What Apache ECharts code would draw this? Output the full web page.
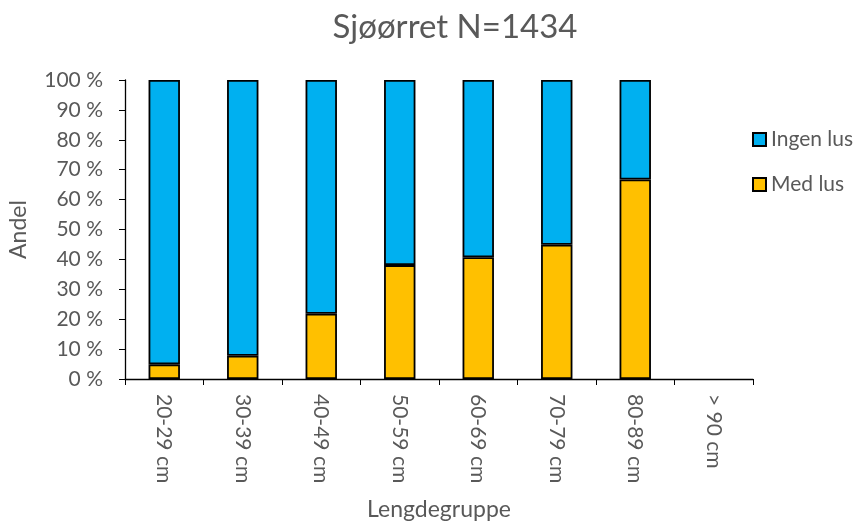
<!DOCTYPE html>
<html>
<head>
<meta charset="utf-8">
<script src="https://cdn.jsdelivr.net/npm/echarts@6/dist/echarts.min.js"></script>
<style>
  html, body { margin: 0; padding: 0; background: #fff; }
  #chart { width: 856px; height: 522px; }
</style>
</head>
<body>
<div id="chart"></div>
<script>
// data
const categories = ["20-29 cm", "30-39 cm", "40-49 cm", "50-59 cm", "60-69 cm", "70-79 cm", "80-89 cm", "> 90 cm"];
const medLus = [4.9, 7.8, 21.8, 38.1, 40.7, 44.9, 66.7, null];
const ingenLus = [95.1, 92.2, 78.2, 61.9, 59.3, 55.1, 33.3, null];
const yTicks = [0, 100, 10]; // min, max, step

const font = "Lato";
const grey = "#595959";

const chart = echarts.init(document.getElementById("chart"));
chart.setOption({
  animation: false,
  textStyle: { fontFamily: font },
  title: {
    text: "Sjøørret N=1434",
    left: 450,
    textAlign: "center",
    top: 6,
    textStyle: { fontFamily: font, fontSize: 33, fontWeight: "normal", color: grey }
  },
  legend: {
    data: ["Ingen lus", "Med lus"],
    orient: "vertical",
    left: 747,
    top: 123,
    itemWidth: 13,
    itemHeight: 13,
    itemGap: 22,
    icon: "rect",
    textStyle: { fontFamily: font, fontSize: 21, lineHeight: 23, color: grey }
  },
  grid: { left: 125, right: 103, top: 80, bottom: 143, outerBoundsMode: "none" },
  xAxis: {
    type: "category",
    data: categories,
    name: "Lengdegruppe",
    nameLocation: "middle",
    nameGap: 119,
    nameTextStyle: { fontFamily: font, fontSize: 23, color: grey },
    axisLine: { lineStyle: { color: "#000", width: 1.3 } },
    axisTick: { show: true, length: 6, lineStyle: { color: "#000" } },
    axisLabel: { rotate: -90, fontFamily: font, fontSize: 21, color: grey, margin: 15 }
  },
  yAxis: {
    type: "value",
    min: yTicks[0],
    max: yTicks[1],
    interval: yTicks[2],
    name: "Andel",
    nameLocation: "middle",
    nameGap: 95,
    nameTextStyle: { fontFamily: font, fontSize: 23, color: grey },
    axisLine: { show: true, lineStyle: { color: "#000", width: 1.3 } },
    axisTick: { show: true, length: 6, lineStyle: { color: "#000" } },
    splitLine: { show: false },
    axisLabel: { formatter: "{value} %", fontFamily: font, fontSize: 21, color: grey, margin: 22 }
  },
  series: [
    {
      name: "Med lus",
      type: "bar",
      stack: "total",
      barWidth: "40%",
      data: medLus,
      itemStyle: { color: "#FFC000", borderColor: "#000", borderWidth: 1.8 }
    },
    {
      name: "Ingen lus",
      type: "bar",
      stack: "total",
      barWidth: "40%",
      data: ingenLus,
      itemStyle: { color: "#00B0F0", borderColor: "#000", borderWidth: 1.8 }
    }
  ]
});
</script>
</body>
</html>
